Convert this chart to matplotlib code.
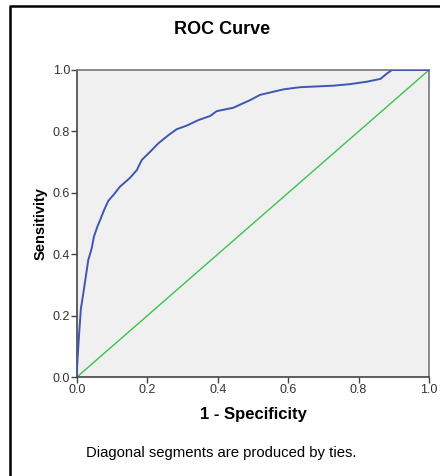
import matplotlib.pyplot as plt
from matplotlib.lines import Line2D

# ROC curve points
fpr = [0.0, 0.0, 0.002, 0.006, 0.011, 0.018, 0.025, 0.032, 0.042, 0.048, 0.058,
       0.067, 0.077, 0.089, 0.105, 0.122, 0.15, 0.17, 0.184, 0.208, 0.231,
       0.26, 0.283, 0.312, 0.345, 0.378, 0.397, 0.444, 0.492, 0.52, 0.587,
       0.634, 0.729, 0.776, 0.824, 0.862, 0.881, 0.895, 1.0]
tpr = [0.0, 0.03, 0.068, 0.14, 0.222, 0.273, 0.327, 0.381, 0.42, 0.457, 0.49,
       0.515, 0.544, 0.574, 0.595, 0.62, 0.648, 0.674, 0.707, 0.734, 0.761,
       0.788, 0.807, 0.819, 0.837, 0.85, 0.866, 0.877, 0.902, 0.919, 0.937,
       0.944, 0.949, 0.954, 0.962, 0.971, 0.989, 1.0, 1.0]
ref_line = [0.0, 1.0]
ticks = [0.0, 0.2, 0.4, 0.6, 0.8, 1.0]

plt.rcParams['font.family'] = ['Liberation Sans', 'DejaVu Sans']

W, H = 440, 476
fig = plt.figure(figsize=(W / 100, H / 100), dpi=100)
ax = fig.add_axes([77 / W, 1 - 377 / H, (429 - 77) / W, (377 - 70) / H])

ax.set_facecolor('#f0f0f0')
ax.plot(ref_line, ref_line, color='#3cc24f', lw=1.0, zorder=2)
ax.plot(fpr, tpr, color='#3f56b2', lw=1.4, zorder=3)

ax.set_xlim(0, 1)
ax.set_ylim(0, 1)
ax.set_xticks(ticks)
ax.set_yticks(ticks)
ax.set_xticklabels([f"{t:.1f}" for t in ticks])
ax.set_yticklabels([f"{t:.1f}" for t in ticks])
ax.tick_params(direction='out', length=4.5, width=1.0, color='#444444',
               labelsize=9, labelcolor='#333333', pad=0.5)
for side in ['left', 'bottom']:
    ax.spines[side].set_color('#444444')
    ax.spines[side].set_linewidth(1.2)
for side in ['top', 'right']:
    ax.spines[side].set_color('#777777')
    ax.spines[side].set_linewidth(1.2)

ax.set_xlabel("1 - Specificity", fontsize=12, fontweight='bold', labelpad=8)
ax.set_ylabel("Sensitivity", fontsize=10.5, fontweight='bold', labelpad=4)

fig.text(222 / W, 1 - 30 / H, "ROC Curve", ha='center', va='center',
         fontsize=13, fontweight='bold')
fig.text(221 / W, 1 - 453 / H, "Diagonal segments are produced by ties.",
         ha='center', va='center', fontsize=10.7)

# outer frame (only left and top visible in the crop)
fig.add_artist(Line2D([9.5 / W, 9.5 / W, 1], [0, 1 - 6 / H, 1 - 6 / H],
                      color='black', lw=1.8, transform=fig.transFigure))

fig.savefig('out.png', dpi=100)
